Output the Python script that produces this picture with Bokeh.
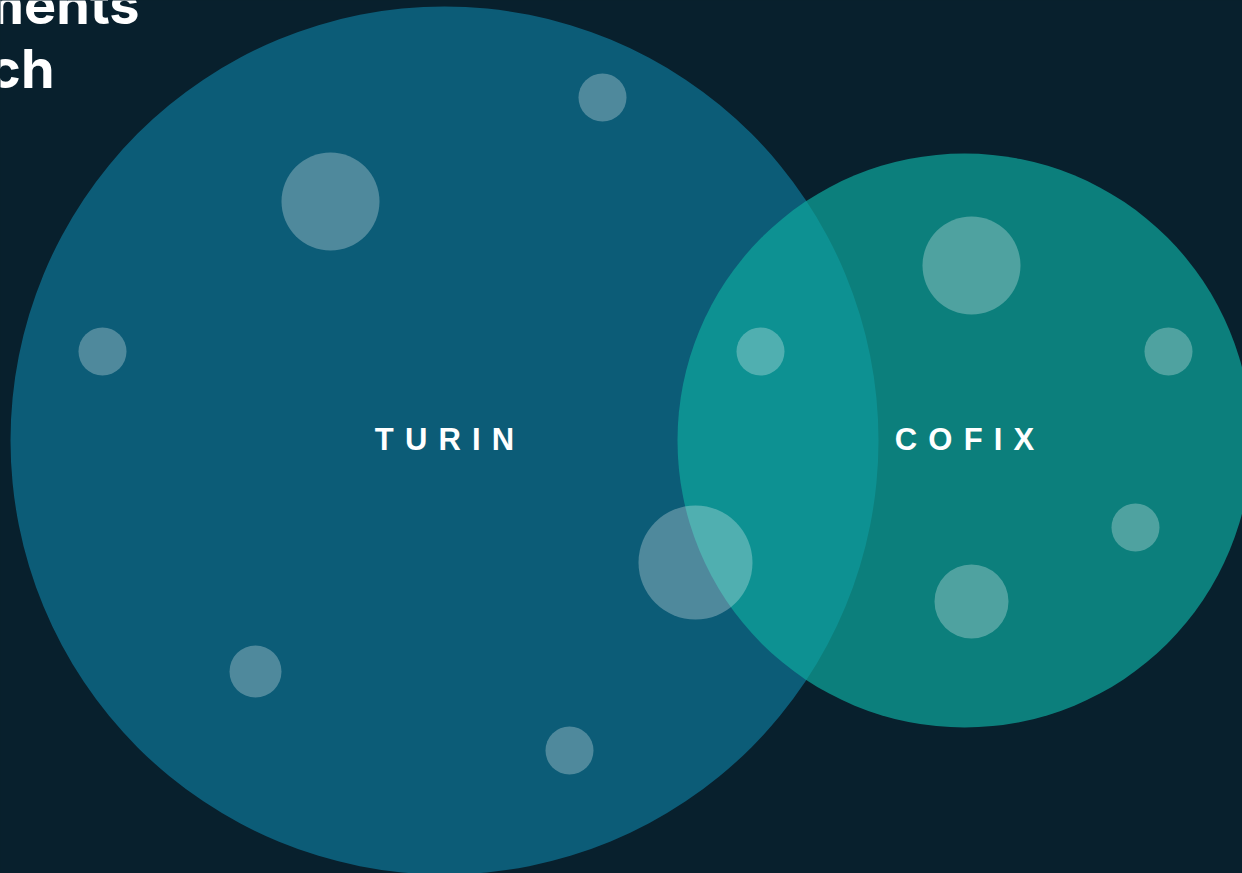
from bokeh.plotting import figure
from bokeh.models import Range1d, ColumnDataSource
from bokeh.embed import file_html
from bokeh.resources import INLINE
from bokeh.core.properties import value

# Sets (Venn circles) in screen pixels
set_names = ["TURIN", "COFIX"]
set_x = [444, 964]
set_y = [440, 440]
set_r = [434, 287]

# Member dots
dot_x = [602, 330, 102, 255, 569, 695, 760, 971, 1168, 1135, 971]
dot_y = [97, 201, 351, 671, 750, 562, 351, 265, 351, 527, 601]
dot_r = [24, 49, 24, 26, 24, 57, 24, 49, 24, 24, 37]

# Title fragments visible at top-left
title_lines = ["ments", "ch"]

BG = "#08202d"
W, H = 1242, 873

p = figure(width=W, height=H, output_backend="svg", toolbar_location=None,
           x_range=Range1d(0, W), y_range=Range1d(H, 0),
           min_border=0, background_fill_color=BG, border_fill_color=BG,
           outline_line_color=None)
p.axis.visible = False
p.grid.visible = False

# big set
p.circle(x=[set_x[0]], y=[set_y[0]], radius=[set_r[0]],
         fill_color="#0c5c77", line_color=None)
# small set, translucent
p.circle(x=[set_x[1]], y=[set_y[1]], radius=[set_r[1]],
         fill_color="#0ea89e", fill_alpha=0.7, line_color=None)

dots = ColumnDataSource(dict(x=dot_x, y=dot_y, r=dot_r))
p.circle(x="x", y="y", radius="r", source=dots,
         fill_color="white", fill_alpha=0.28, line_color=None)

sep = " \u200a"
labels = ColumnDataSource(dict(x=set_x, y=[y - 1 for y in set_y],
                               t=[sep.join(list(n)) for n in set_names]))
p.text(x="x", y="y", text="t", source=labels, text_color="white",
       text_font=value("Liberation Sans"), text_font_style="bold",
       text_font_size="31px", text_align="center", text_baseline="middle")

tsrc = ColumnDataSource(dict(x=[139, 54], y=[4, 68], t=title_lines))
p.text(x="x", y="y", text="t", source=tsrc, text_color="white",
       text_font=value("Inter"), text_font_style="bold",
       text_font_size="54px", text_align="right", text_baseline="middle")

html = file_html(p, INLINE)
html = html.replace("<head>", "<head><style>html,body{background:%s;margin:0;overflow:hidden}</style>" % BG, 1)
open("out.html", "w").write(html)
